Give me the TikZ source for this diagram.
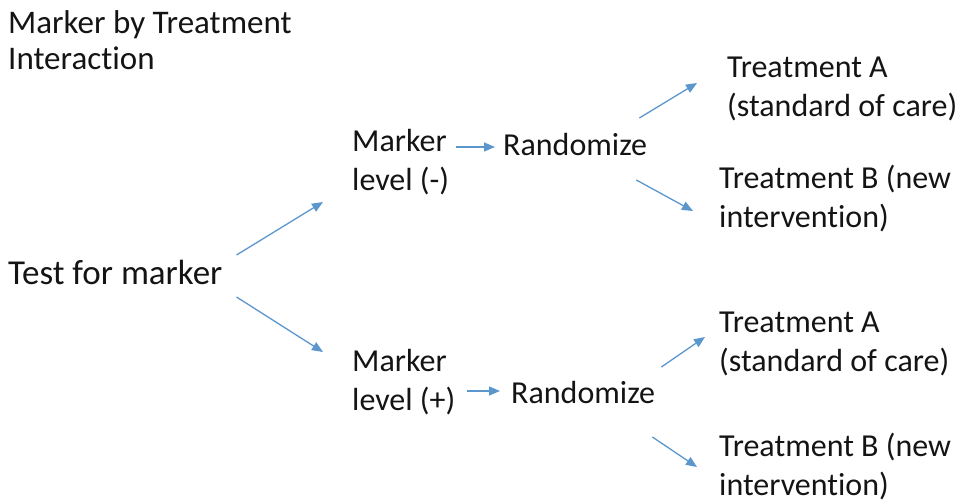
\documentclass[tikz,border=0pt]{standalone}
\usepackage{fontspec}
\setmainfont{Carlito}[Ligatures={NoCommon}]
\usetikzlibrary{arrows.meta,calc}
\definecolor{ArrowBlue}{RGB}{91,150,205}
\definecolor{TextDark}{RGB}{20,20,20}

\begin{document}
\begin{tikzpicture}[
    x=1pt, y=-1pt,
    lbl/.style={anchor=west, inner sep=0pt, align=left, text=TextDark,
                font=\fontsize{32}{39}\selectfont},
    arr/.style={-{Triangle[length=11pt,width=9pt]}, line width=1.3pt, ArrowBlue}
  ]
    \useasboundingbox (0,0) rectangle (964,501);

    \node[lbl, font=\fontsize{33}{36}\selectfont] (title) at (8,40) {Marker by Treatment\\Interaction};
    \node[lbl, font=\fontsize{35}{40}\selectfont] (test) at (8,272) {Test for marker};

    \node[lbl] (mneg) at (352,162) {Marker\\level (-)};
    \node[lbl] (mpos) at (352,382) {Marker\\level (+)};

    \node[lbl] (rneg) at (503,145) {Randomize};
    \node[lbl] (rpos) at (511,393) {Randomize};

    \node[lbl] (ta1) at (727,89) {Treatment A\\(standard of care)};
    \node[lbl] (tb1) at (719,199) {Treatment B (new\\intervention)};
    \node[lbl] (ta2) at (719,344) {Treatment A\\(standard of care)};
    \node[lbl] (tb2) at (719,467) {Treatment B (new\\intervention)};

    \draw[arr] ($(test.east)+(14,-17)$) -- ($(mneg.west)+(-29,40)$);
    \draw[arr] ($(test.east)+(14,25)$) -- ($(mpos.west)+(-29,-30)$);
    \draw[arr] ($(mneg.east)+(7,-15)$) -- ($(rneg.west)+(-8,2)$);
    \draw[arr] ($(mpos.east)+(12,9)$) -- ($(rpos.west)+(-11,-2)$);
    \draw[arr] ($(rneg.east)+(-8,-27)$) -- ($(ta1.west)+(-30,-6)$);
    \draw[arr] ($(rneg.east)+(-11,35)$) -- ($(tb1.west)+(-26,12)$);
    \draw[arr] ($(rpos.east)+(6,-26)$) -- ($(ta2.west)+(-14,-7)$);
    \draw[arr] ($(rpos.east)+(-3,44)$) -- ($(tb2.west)+(-22,0)$);
  \end{tikzpicture}
\end{document}
